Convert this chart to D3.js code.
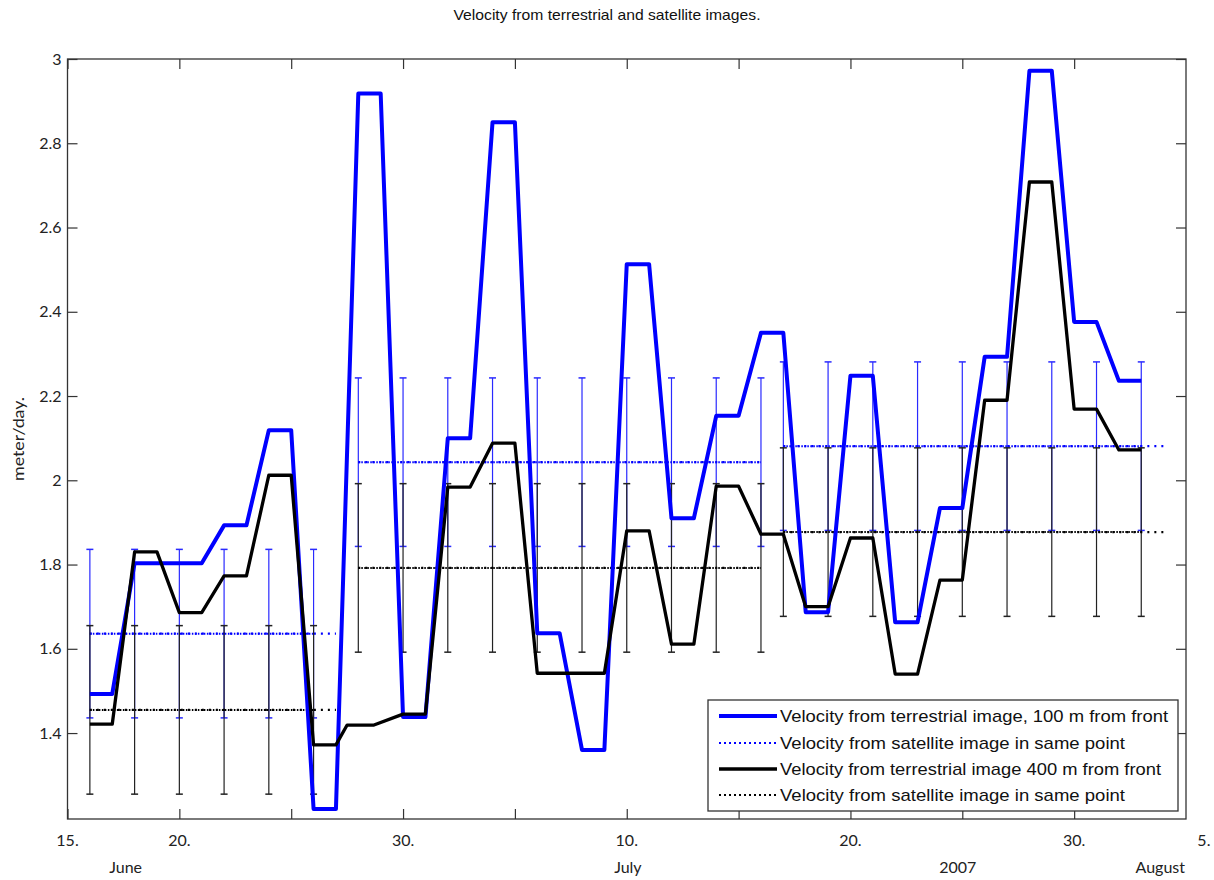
<!DOCTYPE html>
<html>
<head>
<meta charset="utf-8">
<script src="https://cdn.jsdelivr.net/npm/d3@7"></script>
<style>
  body { margin: 0; background: #fff; }
  svg { display: block; }
</style>
</head>
<body>
<div id="canvas"></div>
<script>
"use strict";

let svgWidth = 1214;
let svgHeight = 880;
let plotLeft = 67.5, plotRight = 1186, plotTop = 59, plotBottom = 819;

// days counted from 15 June 2007
let startDate = new Date(Date.UTC(2007, 5, 15));
let endDay = 50;

// terrestrial image, 100 m from front (blue)
let blueDays = [1,2, 3,4, 5,6, 7,8, 9,10, 11,12, 13,14, 15,16, 17,18, 19,20, 21,22, 23,24,
  25,26, 27,28, 29,30, 31,32, 33,34, 35,36, 37,38, 39,40, 41,42, 43,44, 45,46, 47,48];
let blueVals = [1.493,1.493, 1.803,1.803, 1.803,1.803, 1.893,1.893, 2.119,2.119, 1.22,1.22,
  2.918,2.918, 1.438,1.438, 2.10,2.10, 2.85,2.85, 1.637,1.637, 1.36,1.36, 2.513,2.513,
  1.91,1.91, 2.153,2.153, 2.35,2.35, 1.687,1.687, 2.248,2.248, 1.663,1.663, 1.934,1.934,
  2.293,2.293, 2.972,2.972, 2.376,2.376, 2.236,2.236];

// terrestrial image, 400 m from front (black)
let blackDays = [1,2, 3,4, 5,6, 7,8, 9,10, 11,12, 12.5,13.7, 15,16, 17,18, 19,20, 21,22, 23,24,
  25,26, 27,28, 29,30, 31,32, 33,34, 35,36, 37,38, 39,40, 41,42, 43,44, 45,46, 47,48];
let blackVals = [1.421,1.421, 1.83,1.83, 1.686,1.686, 1.773,1.773, 2.012,2.012, 1.372,1.372,
  1.419,1.419, 1.445,1.445, 1.984,1.984, 2.088,2.088, 1.542,1.542, 1.542,1.542, 1.88,1.88,
  1.611,1.611, 1.986,1.986, 1.872,1.872, 1.70,1.70, 1.863,1.863, 1.54,1.54, 1.763,1.763,
  2.19,2.19, 2.708,2.708, 2.169,2.169, 2.072,2.072];

// satellite images: three periods, error bar days and where the dotted line ends
let satDays = [
  [1, 3, 5, 7, 9, 11],
  [13, 15, 17, 19, 21, 23, 25, 27, 29, 31],
  [32, 34, 36, 38, 40, 42, 44, 46, 48]
];
let satLineEnd = [12, 31, 49];
let satBlueVals = [1.636, 2.043, 2.081];
let satBlackVals = [1.455, 1.792, 1.877];
let satErr = [0.2, 0.2, 0.2];

let yTicks = [1.4, 1.6, 1.8, 2, 2.2, 2.4, 2.6, 2.8, 3];
let xTickDays = [0, 5, 10, 15, 20, 25, 30, 35, 40, 45];
let xLabelDays = [0, 5, 15, 25, 35, 45, 50.8];
let xLabels = ["15.", "20.", "30.", "10.", "20.", "30.", "5."];
let subLabelDays = [2.6, 25.05, 39.8, 48.85];
let subLabels = ["June", "July", "2007", "August"];

let legendNames = [
  "Velocity from terrestrial image, 100 m from front",
  "Velocity from satellite image in same point",
  "Velocity from terrestrial image 400 m from front",
  "Velocity from satellite image in same point"
];
let legendTextLen = [388, 345, 381, 345];

function dayDate(d) { return new Date(startDate.getTime() + d * 864e5); }

let svg = d3.select("#canvas")
  .append("svg")
  .attr("width", svgWidth)
  .attr("height", svgHeight);

let xScale = d3.scaleUtc()
  .domain([startDate, dayDate(endDay)])
  .range([plotLeft, plotRight]);

let yScale = d3.scaleLinear()
  .domain([1.196, 3])
  .range([plotBottom, plotTop]);

let x = function(d) { return xScale(dayDate(d)); };

let tickFont = "Lato, 'Open Sans', sans-serif";
let axisColor = "#333";

/* axes: ticks point inward on all four sides */
let tickDates = xTickDays.map(dayDate);

let gBottom = svg.append("g")
  .attr("transform", "translate(0," + plotBottom + ")")
  .call(d3.axisBottom(xScale).tickValues(tickDates).tickSizeInner(-10).tickSizeOuter(0).tickFormat(""));
let gTop = svg.append("g")
  .attr("transform", "translate(0," + plotTop + ")")
  .call(d3.axisTop(xScale).tickValues(tickDates).tickSizeInner(-10).tickSizeOuter(0).tickFormat(""));
let gLeft = svg.append("g")
  .attr("transform", "translate(" + plotLeft + ",0)")
  .call(d3.axisLeft(yScale).tickValues(yTicks).tickSizeInner(-10).tickSizeOuter(0)
    .tickPadding(6).tickFormat(function(d){ return String(d); }));
let gRight = svg.append("g")
  .attr("transform", "translate(" + plotRight + ",0)")
  .call(d3.axisRight(yScale).tickValues(yTicks).tickSizeInner(-10).tickSizeOuter(0).tickFormat(""));

[gBottom, gTop, gLeft, gRight].forEach(function(g) {
  g.select(".domain").remove();
  g.selectAll(".tick line").attr("stroke", axisColor).attr("stroke-width", 1.2);
});
gLeft.selectAll(".tick text")
  .attr("fill", "#222")
  .style("font-family", tickFont)
  .style("font-size", "16px");

svg.append("rect")
  .attr("x", plotLeft)
  .attr("y", plotTop)
  .attr("width", plotRight - plotLeft)
  .attr("height", plotBottom - plotTop)
  .attr("fill", "none")
  .attr("stroke", axisColor)
  .attr("stroke-width", 1.3);

// x tick labels, second row with month names
svg.selectAll(".xlab")
  .data(xLabelDays)
  .enter()
  .append("text")
  .attr("x", function(d){ return x(d); })
  .attr("y", 846)
  .attr("text-anchor", "middle")
  .style("font-family", tickFont)
  .style("font-size", "16px")
  .attr("fill", "#222")
  .text(function(d, i){ return xLabels[i]; });

svg.selectAll(".sublab")
  .data(subLabelDays)
  .enter()
  .append("text")
  .attr("x", function(d){ return x(d); })
  .attr("y", 873)
  .attr("text-anchor", "middle")
  .style("font-family", tickFont)
  .style("font-size", "16px")
  .attr("fill", "#222")
  .text(function(d, i){ return subLabels[i]; });

// title and y label
svg.append("text")
  .attr("x", 607)
  .attr("y", 20)
  .attr("text-anchor", "middle")
  .style("font-family", "'Liberation Sans', Arial, sans-serif")
  .style("font-size", "15px")
  .attr("textLength", 307)
  .attr("lengthAdjust", "spacingAndGlyphs")
  .attr("fill", "#111")
  .text("Velocity from terrestrial and satellite images.");

svg.append("text")
  .attr("transform", "translate(24," + ((plotTop + plotBottom) / 2) + ") rotate(-90)")
  .attr("text-anchor", "middle")
  .style("font-family", tickFont)
  .style("font-size", "16px")
  .attr("textLength", 84)
  .attr("lengthAdjust", "spacingAndGlyphs")
  .attr("fill", "#222")
  .text("meter/day.");

/* satellite error bars and dotted lines */
let plot = svg.append("g");

function drawSatellite(vals, color, barColor) {
  for (let p = 0; p < satDays.length; p++) {
    let v = vals[p], e = satErr[p], ds = satDays[p];
    ds.forEach(function(d) {
      let cx = x(d);
      plot.append("line")
        .attr("x1", cx).attr("x2", cx)
        .attr("y1", yScale(v - e)).attr("y2", yScale(v + e))
        .attr("stroke", barColor).attr("stroke-width", 1.2);
      [v - e, v + e].forEach(function(w) {
        plot.append("line")
          .attr("x1", cx - 3.5).attr("x2", cx + 3.5)
          .attr("y1", yScale(w)).attr("y2", yScale(w))
          .attr("stroke", barColor).attr("stroke-width", 1.5);
      });
    });
    // errorbar line (dense) + plotted line running one step further (sparse)
    plot.append("line")
      .attr("x1", x(ds[0])).attr("x2", x(ds[ds.length - 1]))
      .attr("y1", yScale(v)).attr("y2", yScale(v))
      .attr("stroke", color).attr("stroke-width", 2)
      .attr("stroke-dasharray", "1.5,1.5");
    plot.append("line")
      .attr("x1", x(ds[0])).attr("x2", x(satLineEnd[p]))
      .attr("y1", yScale(v)).attr("y2", yScale(v))
      .attr("stroke", color).attr("stroke-width", 2.4)
      .attr("stroke-dasharray", "2,5");
  }
}

drawSatellite(satBlueVals, "#0000ff", "#2a2aff");
drawSatellite(satBlackVals, "#000", "#222");

/* terrestrial lines */
let line = d3.line()
  .x(function(d){ return x(d[0]); })
  .y(function(d){ return yScale(d[1]); });

plot.append("path")
  .datum(d3.zip(blueDays, blueVals))
  .attr("d", line)
  .attr("fill", "none")
  .attr("stroke", "#0000ff")
  .attr("stroke-width", 4)
  .attr("stroke-linejoin", "round");

plot.append("path")
  .datum(d3.zip(blackDays, blackVals))
  .attr("d", line)
  .attr("fill", "none")
  .attr("stroke", "#000")
  .attr("stroke-width", 3.3)
  .attr("stroke-linejoin", "round");

/* legend */
let legX = 708, legY = 700, legW = 470, legH = 111;
let legend = svg.append("g");
legend.append("rect")
  .attr("x", legX).attr("y", legY)
  .attr("width", legW).attr("height", legH)
  .attr("fill", "#fff")
  .attr("stroke", axisColor)
  .attr("stroke-width", 1.3);

let legStyles = [
  { color: "#0000ff", width: 4, dash: null },
  { color: "#0000ff", width: 2.2, dash: "2,3" },
  { color: "#000", width: 3.5, dash: null },
  { color: "#000", width: 2.2, dash: "2,3" }
];
let rowY = [716, 743, 769, 795];

for (let i = 0; i < legendNames.length; i++) {
  legend.append("line")
    .attr("x1", 719).attr("x2", 777)
    .attr("y1", rowY[i]).attr("y2", rowY[i])
    .attr("stroke", legStyles[i].color)
    .attr("stroke-width", legStyles[i].width)
    .attr("stroke-dasharray", legStyles[i].dash);
  legend.append("text")
    .attr("x", 780)
    .attr("y", rowY[i] + 6)
    .style("font-family", "'Liberation Sans', Arial, sans-serif")
    .style("font-size", "17px")
    .attr("textLength", legendTextLen[i])
    .attr("lengthAdjust", "spacingAndGlyphs")
    .attr("fill", "#111")
    .text(legendNames[i]);
}
</script>
</body>
</html>
